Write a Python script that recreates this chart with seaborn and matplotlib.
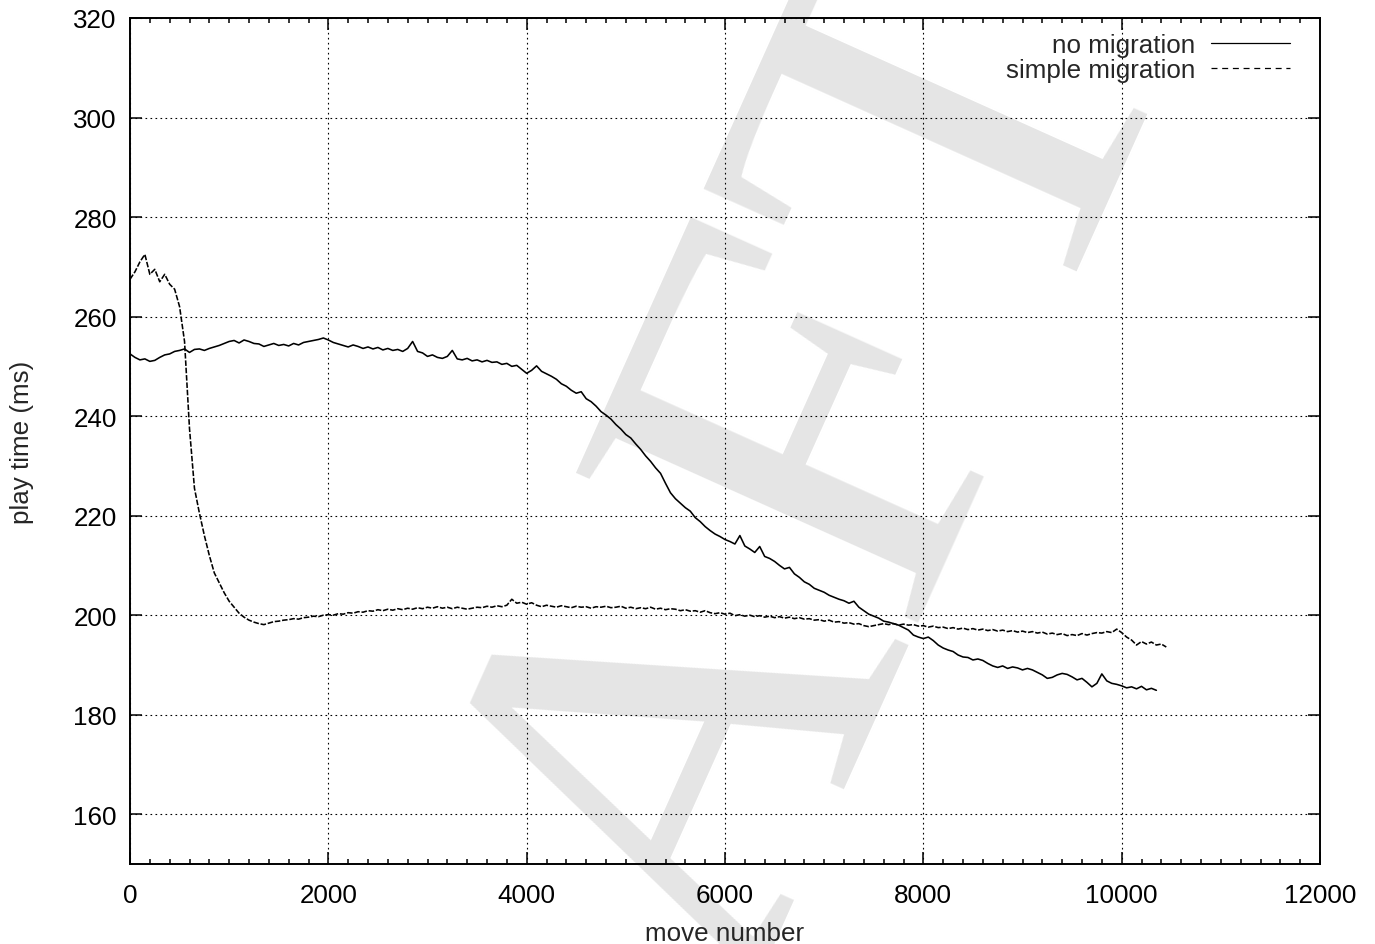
import numpy as np
import pandas as pd
import matplotlib
matplotlib.use("Agg")
import matplotlib.pyplot as plt
import seaborn as sns
from matplotlib.lines import Line2D
from matplotlib.ticker import MultipleLocator

# ---------------- data ----------------
MOVE_STEP = 50  # samples every 50 moves

play_no_migration = [
    252.5, 251.8, 251.3, 251.5, 251.0, 251.2, 251.8, 252.3, 252.5, 253.0, 253.2, 253.5, 252.8, 253.4, 253.5, 253.2, 253.6, 253.9, 254.2, 254.6,
    255.0, 255.2, 254.7, 255.3, 255.0, 254.6, 254.5, 254.0, 254.3, 254.6, 254.2, 254.4, 254.1, 254.6, 254.3, 254.8, 255.0, 255.2, 255.4, 255.7,
    255.3, 254.8, 254.5, 254.2, 253.9, 254.3, 254.0, 253.6, 253.9, 253.5, 253.8, 253.3, 253.6, 253.2, 253.4, 253.0, 253.6, 255.0, 253.0, 252.7,
    252.0, 252.3, 251.8, 251.6, 252.0, 253.2, 251.5, 251.3, 251.6, 251.1, 251.3, 250.9, 251.2, 250.8, 250.9, 250.4, 250.6, 250.0, 250.2, 249.4,
    248.6, 249.2, 250.1, 249.0, 248.5, 248.0, 247.4, 246.5, 246.0, 245.2, 244.6, 244.9, 243.5, 242.9, 242.0, 240.9, 240.2, 239.4, 238.3, 237.4,
    236.3, 235.6, 234.4, 233.3, 232.0, 230.9, 229.6, 228.5, 226.5, 224.6, 223.4, 222.5, 221.6, 220.9, 219.6, 218.8, 217.8, 217.0, 216.3, 215.8,
    215.2, 214.8, 214.3, 216.0, 213.9, 213.3, 212.6, 213.8, 211.8, 211.4, 210.8, 210.0, 209.3, 209.6, 208.3, 207.6, 206.7, 206.2, 205.4, 205.0,
    204.6, 204.0, 203.6, 203.2, 202.9, 202.4, 202.8, 201.6, 200.9, 200.2, 199.8, 199.4, 198.8, 198.6, 198.3, 198.0, 197.5, 197.0, 196.0, 195.6,
    195.3, 195.6, 194.9, 194.0, 193.4, 193.0, 192.7, 192.0, 191.6, 191.5, 191.0, 191.2, 190.9, 190.3, 189.8, 189.5, 189.8, 189.3, 189.6, 189.4,
    189.0, 189.3, 189.0, 188.5, 188.0, 187.3, 187.5, 188.0, 188.3, 188.1, 187.6, 187.0, 187.3, 186.5, 185.6, 186.3, 188.2, 186.8, 186.3, 186.1,
    185.8, 185.4, 185.6, 185.2, 185.7, 185.0, 185.3, 184.9,
]

play_simple_migration = [
    267.5, 269.0, 271.0, 272.5, 268.5, 269.5, 267.0, 268.5, 266.5, 265.5, 262.0, 255.0, 237.5, 225.5, 220.5, 216.0, 212.0, 208.5, 206.5, 204.5,
    202.8, 201.6, 200.4, 199.6, 199.0, 198.6, 198.3, 198.1, 198.4, 198.7, 198.8, 199.0, 199.1, 199.3, 199.2, 199.5, 199.6, 199.8, 199.7, 200.0,
    200.1, 200.0, 200.3, 200.2, 200.5, 200.4, 200.7, 200.6, 200.9, 200.8, 201.1, 200.9, 201.2, 201.0, 201.3, 201.1, 201.4, 201.2, 201.5, 201.3,
    201.6, 201.4, 201.7, 201.4, 201.6, 201.3, 201.6, 201.4, 201.2, 201.4, 201.6, 201.5, 201.8, 201.6, 201.9, 201.7, 202.0, 203.2, 202.4, 202.6,
    202.2, 202.5, 202.0, 201.7, 202.0, 201.8, 201.6, 201.9, 201.7, 201.5, 201.8, 201.6, 201.7, 201.4, 201.7, 201.6, 201.8, 201.5, 201.6, 201.8,
    201.4, 201.6, 201.3, 201.5, 201.3, 201.6, 201.2, 201.4, 201.1, 201.3, 201.2, 200.9, 201.1, 200.8, 200.9, 200.6, 200.9, 200.5, 200.3, 200.5,
    200.2, 200.4, 199.9, 200.1, 199.8, 200.0, 199.7, 199.9, 199.6, 199.8, 199.5, 199.7, 199.4, 199.6, 199.3, 199.5, 199.2, 199.3, 199.0, 199.1,
    198.8, 199.0, 198.6, 198.7, 198.4, 198.5, 198.2, 198.3, 197.9, 197.7, 197.9, 198.1, 198.3, 198.1, 198.3, 198.0, 198.2, 198.0, 198.1, 197.8,
    197.9, 197.6, 197.8, 197.5, 197.6, 197.3, 197.5, 197.2, 197.4, 197.1, 197.3, 197.0, 197.2, 196.9, 197.1, 196.8, 197.0, 196.7, 196.9, 196.6,
    196.8, 196.5, 196.7, 196.4, 196.6, 196.2, 196.4, 196.1, 196.3, 195.9, 196.1, 195.9, 196.3, 196.0, 196.3, 196.5, 196.4, 196.7, 196.5, 197.2,
    196.5, 195.6, 195.0, 194.0, 194.7, 194.2, 194.6, 194.0, 194.2, 193.6,
]

series_labels = ["no migration", "simple migration"]
x_ticks = [0, 2000, 4000, 6000, 8000, 10000, 12000]
y_ticks = [160, 180, 200, 220, 240, 260, 280, 300, 320]
x_label = "move number"
y_label = "play time (ms)"
watermark_text = "DRAFT"

# ---------------- styling ----------------
sns.set_style("white")
plt.rcParams['font.family'] = ['Liberation Sans', 'DejaVu Sans']
plt.rcParams['lines.scale_dashes'] = False

W, H = 1375, 945
FS = 18.7

fig = plt.figure(figsize=(W / 100, H / 100), dpi=100)
fig.patch.set_facecolor('white')

# watermark behind everything
fig.text(1175.0 / W, 1 - 17.0 / H, watermark_text, rotation=65.8, rotation_mode='anchor',
         ha='right', va='baseline', fontsize=411, family=['Liberation Serif', 'DejaVu Serif'],
         color='#e5e5e5', zorder=-10)

ax = fig.add_axes([130 / W, 1 - 865 / H, 1190 / W, 846 / H])
ax.set_facecolor('none')

df = pd.concat([
    pd.DataFrame({'move': np.arange(len(play_no_migration)) * MOVE_STEP,
                  'time': play_no_migration, 'series': series_labels[0]}),
    pd.DataFrame({'move': np.arange(len(play_simple_migration)) * MOVE_STEP,
                  'time': play_simple_migration, 'series': series_labels[1]}),
], ignore_index=True)

DATA_DASH = (4.0, 1.3)
LEGEND_DASH = (4.3, 3.4)
sns.lineplot(data=df, x='move', y='time', hue='series', style='series',
             palette=['black', 'black'], dashes={series_labels[0]: "", series_labels[1]: DATA_DASH},
             estimator=None, sort=False, legend=False, linewidth=1.15, ax=ax, zorder=3)

ax.set_xlim(0, 12000)
ax.set_ylim(150, 320)
ax.set_xticks(x_ticks)
ax.set_yticks(y_ticks)
ax.xaxis.set_minor_locator(MultipleLocator(200))

ax.grid(True, which='major', color='black', linestyle=(0, (1.2, 2.4)), linewidth=0.8)
ax.set_axisbelow(True)

for s in ax.spines.values():
    s.set_visible(True)
    s.set_color('black')
    s.set_linewidth(1.4)

ax.tick_params(which='both', direction='in', top=True, right=True, bottom=True, left=True,
               width=1.1, colors='black', labelsize=FS)
ax.tick_params(which='major', length=8.5)
ax.tick_params(which='minor', length=3.6)
ax.tick_params(axis='y', which='minor', left=False, right=False)
ax.tick_params(axis='x', pad=14)
ax.tick_params(axis='y', pad=9.5)

ax.set_xlabel(x_label, fontsize=FS, labelpad=10)
ax.set_ylabel(y_label, fontsize=FS, labelpad=28.5)

handles = [Line2D([], [], color='black', lw=0.9),
           Line2D([], [], color='black', lw=0.9, dashes=LEGEND_DASH)]
ax.legend(handles, series_labels, loc='upper right', bbox_to_anchor=(0.9748, 0.982),
          frameon=False, markerfirst=False, handlelength=3.05, handletextpad=0.58,
          labelspacing=0.04, borderpad=0, borderaxespad=0, fontsize=FS)

fig.savefig('out.png', dpi=100, facecolor='white')
